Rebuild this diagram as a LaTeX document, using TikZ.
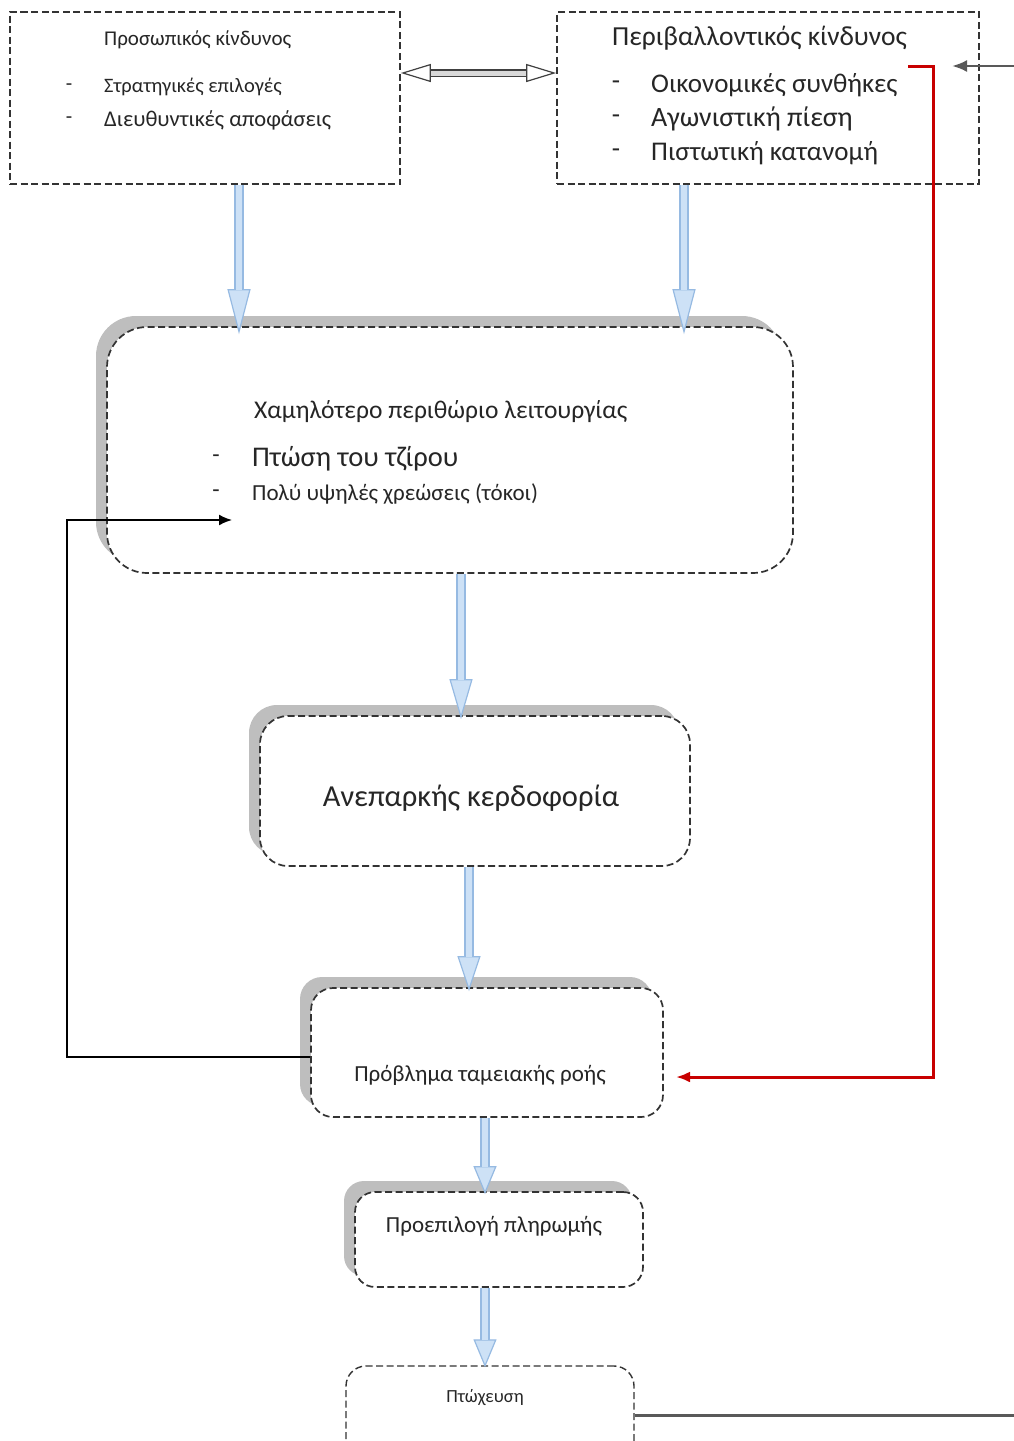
\documentclass[tikz,border=0pt]{standalone}
\usepackage{fontspec}
\setmainfont{Carlito}
\usepackage{xcolor}
\usepackage{tikz}
\usetikzlibrary{calc}
\usetikzlibrary{arrows}
\usetikzlibrary{arrows.meta}
\usetikzlibrary{shadows}
\definecolor{arrowedge}{RGB}{150,186,226}
\definecolor{arrowfill}{RGB}{205,225,246}
\definecolor{shadowgray}{RGB}{190,190,190}
\definecolor{loopred}{RGB}{200,0,0}
\tikzset{>=latex}
\tikzstyle{riskbox} = [rectangle, draw = black!80, line width = 1.7pt, dash pattern = on 7pt off 3.5pt, inner sep = 0]
\tikzstyle{stagebox} = [riskbox, fill = white, drop shadow = {shadow xshift = -11pt, shadow yshift = 11pt, fill = shadowgray, opacity = 1}]
\tikzstyle{txt} = [draw = none, inner sep = 1, text = black!85]
\tikzset{flow/.style = {draw = arrowedge, line width = 10pt, -{Triangle[length = #1, width = 23pt, line width = 1.2pt, fill = arrowfill]},
  postaction = {draw = arrowfill, line width = 6pt, arrows = -, shorten > = #1 - 1pt}},
  flow/.default = 40pt}

\begin{document}
\begin{tikzpicture}[x = 1pt, y = -1pt]
\useasboundingbox (0, 0) rectangle (1014, 1441);
\clip (0, 0) rectangle (1014, 1441);
% risk boxes
\node [riskbox, minimum width = 390, minimum height = 172] (pr) at (205, 98) {};
\node [riskbox, minimum width = 422, minimum height = 172] (pe) at (768, 98) {};
\node [txt, anchor = west, font = \fontsize{21}{25}\selectfont] (prt) at (103, 40) {Προσωπικός κίνδυνος};
\node [txt, font = \fontsize{21}{25}\selectfont] (prb1) at (69, 87) {-};
\node [txt, anchor = west, font = \fontsize{20.5}{25}\selectfont] (pr1) at (103, 87) {Στρατηγικές επιλογές};
\node [txt, font = \fontsize{21}{25}\selectfont] (prb2) at (69, 120) {-};
\node [txt, anchor = west, font = \fontsize{22.5}{27}\selectfont] (pr2) at (103, 120) {Διευθυντικές αποφάσεις};
\node [txt, anchor = west, font = \fontsize{27.5}{32}\selectfont] (pet) at (611, 38) {Περιβαλλοντικός κίνδυνος};
\node [txt, font = \fontsize{27}{32}\selectfont] (peb1) at (616, 85) {-};
\node [txt, anchor = west, font = \fontsize{27}{32}\selectfont] (pe1) at (650, 85) {Οικονομικές συνθήκες};
\node [txt, font = \fontsize{27}{32}\selectfont] (peb2) at (616, 119) {-};
\node [txt, anchor = west, font = \fontsize{28}{32}\selectfont] (pe2) at (650, 119) {Αγωνιστική πίεση};
\node [txt, font = \fontsize{27}{32}\selectfont] (peb3) at (616, 153) {-};
\node [txt, anchor = west, font = \fontsize{27}{32}\selectfont] (pe3) at (650, 153) {Πιστωτική κατανομή};
\draw [double = black!15, double distance = 5pt, line width = 1.2pt, draw = black!75,
  {Triangle[length = 30pt, width = 18pt, line width = 1.2pt, fill = white]}-{Triangle[length = 30pt, width = 18pt, line width = 1.2pt, fill = white]}]
  ([yshift = 25pt]pr.east) -- ([yshift = 25pt]pe.west);
% stages
\node [stagebox, rounded corners = 40pt, minimum width = 686, minimum height = 246] (lm) at (450, 450) {};
\node [stagebox, rounded corners = 28pt, minimum width = 430, minimum height = 150] (ak) at (475, 791) {};
\node [stagebox, rounded corners = 22pt, minimum width = 352, minimum height = 129] (cf) at (487, 1052.5) {};
\node [stagebox, rounded corners = 20pt, minimum width = 288, minimum height = 95] (dp) at (499, 1239.5) {};
\node [riskbox, rounded corners = 20pt, line width = 1.4pt, minimum width = 288, minimum height = 98] (bk) at (490, 1415) {};
\node [txt, anchor = west, font = \fontsize{25.5}{30}\selectfont] (lmt) at (253, 412) {Χαμηλότερο περιθώριο λειτουργίας};
\node [txt, font = \fontsize{24}{28}\selectfont] (lmb1) at (216, 459) {-};
\node [txt, anchor = west, font = \fontsize{28.5}{33}\selectfont] (lm1) at (251, 459) {Πτώση του τζίρου};
\node [txt, font = \fontsize{24}{28}\selectfont] (lmb2) at (216, 494) {-};
\node [txt, anchor = west, font = \fontsize{23}{27}\selectfont] (lm2) at (251, 494) {Πολύ υψηλές χρεώσεις (τόκοι)};
\node [txt, font = \fontsize{30.5}{36}\selectfont] (akt) at (471, 798) {Ανεπαρκής κερδοφορία};
\node [txt, font = \fontsize{23}{27}\selectfont] (cft) at (480, 1075) {Πρόβλημα ταμειακής ροής};
\node [txt, font = \fontsize{23}{27}\selectfont] (dpt) at (494, 1226) {Προεπιλογή πληρωμής};
\node [txt, font = \fontsize{18.5}{22}\selectfont] (bkt) at (485, 1398) {Πτώχευση};
% flow arrows
\draw [flow = 45pt] ([xshift = 34pt]pr.south) -- ([xshift = -211pt, yshift = -8pt]lm.north);
\draw [flow = 45pt] ([xshift = -84pt]pe.south) -- ([xshift = 234pt, yshift = -8pt]lm.north);
\draw [flow = 40pt] ([xshift = 11pt]lm.south) -- ([xshift = -14pt, yshift = -4pt]ak.north);
\draw [flow = 35pt] ([xshift = -6pt]ak.south) -- ([xshift = -18pt, yshift = -4pt]cf.north);
\draw [flow = 28pt] ([xshift = -2pt]cf.south) -- ([xshift = -14pt, yshift = -3pt]dp.north);
\draw [flow = 28pt] ([xshift = -14pt]dp.south) -- ([xshift = -5pt, yshift = -2pt]bk.north);
% feedback lines
\coordinate (redstart) at (908, 66);
\coordinate (cfin) at (676, 1077);
\coordinate (lmin) at (232, 520);
\coordinate (edgeT) at (1014, 66);
\coordinate (peIn) at (952, 66);
\coordinate (edgeB) at (1014, 1415);
\draw [-{Latex[length = 14pt, width = 11pt]}, draw = loopred, line width = 3pt] (redstart) -- ++(25, 0) |- (cfin);
\draw [-{Latex[length = 13pt, width = 11pt]}, line width = 1.8pt] ([yshift = -4.5pt]cf.west) -- ++(-243, 0) |- (lmin);
\draw [-{Latex[length = 15pt, width = 12pt]}, draw = black!65, line width = 2.5pt] (edgeT) -- (peIn);
\draw [draw = black!65, line width = 3pt] (bk.east) -- (edgeB);
\end{tikzpicture}
\end{document}
